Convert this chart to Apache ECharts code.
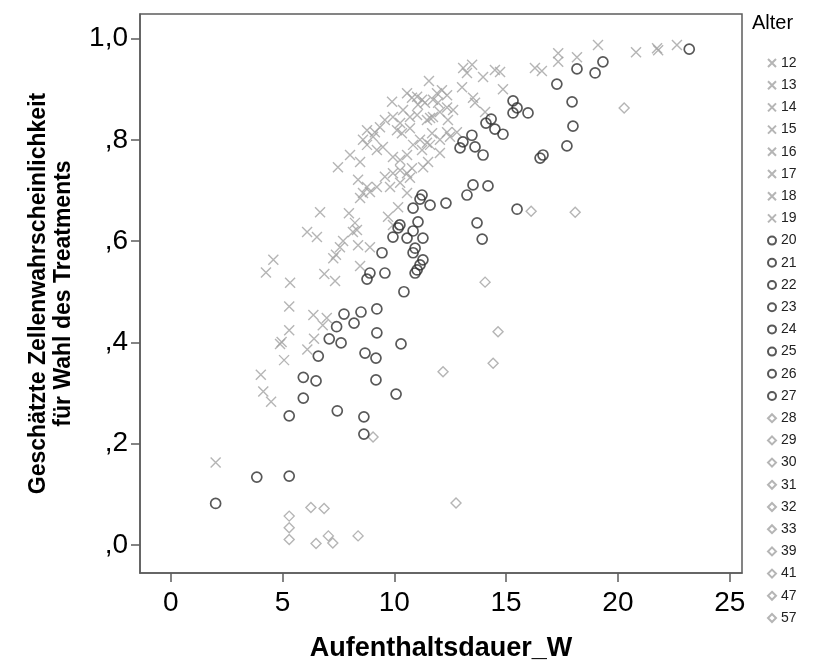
<!DOCTYPE html>
<html>
<head>
<meta charset="utf-8">
<script src="https://cdn.jsdelivr.net/npm/echarts@6/dist/echarts.min.js"></script>
<style>
  html, body { margin: 0; padding: 0; background: #fff; }
  #chart { width: 834px; height: 670px; }
</style>
</head>
<body>
<div id="chart"></div>
<script>
// Estimated cell probability vs. length of stay, grouped by age (Alter)

// Ages 12–19 (cross markers): [Aufenthaltsdauer_W, probability]
const crossPoints = [
  [4.59,0.563],[4.26,0.538],[5.34,0.518],[5.30,0.471],[5.30,0.424],[4.96,0.401],[4.89,0.397],
  [5.07,0.365],[4.03,0.336],[4.14,0.303],[4.49,0.283],[2.01,0.163],[6.38,0.454],[6.80,0.434],
  [6.98,0.448],[6.41,0.407],[6.11,0.386],[6.87,0.535],[7.27,0.566],[7.35,0.521],
  [7.71,0.600],[7.57,0.588],[7.39,0.573],[8.38,0.592],[8.91,0.588],[8.47,0.551],
  [13.08,0.942],[13.48,0.948],[13.25,0.932],[13.97,0.924],[14.50,0.938],[14.73,0.934],
  [11.55,0.916],[12.13,0.898],[11.91,0.892],[12.36,0.888],[13.03,0.904],[13.52,0.883],
  [11.24,0.879],[11.06,0.869],[11.37,0.873],[10.57,0.892],[10.79,0.883],[9.90,0.875],
  [14.06,0.855],[12.36,0.864],[12.63,0.859],[12.04,0.855],[11.73,0.845],[11.46,0.839],
  [11.02,0.849],[10.39,0.859],[10.70,0.845],[10.26,0.833],[9.58,0.839],[9.36,0.825],
  [10.12,0.819],[10.34,0.813],[10.70,0.823],[8.78,0.819],[9.05,0.806],[8.60,0.800],
  [11.69,0.813],[12.04,0.800],[12.49,0.806],[12.80,0.815],[11.15,0.800],[11.46,0.794],
  [9.49,0.786],[9.22,0.780],[8.02,0.770],[8.47,0.756],[7.48,0.746],[12.04,0.774],
  [9.94,0.766],[10.26,0.760],[10.57,0.770],[10.26,0.740],[9.94,0.734],[10.57,0.734],
  [8.38,0.721],[8.78,0.707],[8.60,0.695],[9.22,0.707],[9.58,0.727],[10.26,0.715],
  [10.70,0.725],[10.57,0.695],[10.17,0.667],[8.47,0.685],[6.68,0.657],[7.97,0.655],
  [8.24,0.636],[8.33,0.622],[8.15,0.618],[6.10,0.618],[6.54,0.608],[9.72,0.648],[9.94,0.632],
  [17.33,0.971],[17.33,0.954],[18.17,0.963],[19.11,0.987],[20.81,0.973],[21.75,0.981],
  [21.80,0.977],[22.64,0.987],[16.29,0.942],[16.60,0.936],[14.86,0.900],
  [13.61,0.873],[11.96,0.873],[11.60,0.843],[12.40,0.839],[12.36,0.815],[9.13,0.815],
  [8.78,0.790],[10.84,0.790],[11.60,0.790],[11.24,0.780],[10.79,0.744],[9.81,0.707],
  [8.91,0.697],[11.29,0.746],[11.51,0.756],[9.94,0.845],[11.02,0.885],[11.73,0.879]
];

// Ages 20–27 (circle markers)
const circlePoints = [
  [7.42,0.431],[7.09,0.407],[7.62,0.399],[6.60,0.373],[5.93,0.331],[6.50,0.324],[5.93,0.290],
  [7.45,0.265],[5.30,0.255],[3.85,0.134],[5.30,0.136],[2.01,0.082],
  [11.28,0.563],[11.15,0.553],[11.02,0.543],[10.93,0.537],[8.91,0.537],[8.78,0.525],
  [9.58,0.537],[10.43,0.500],[7.75,0.456],[8.51,0.460],[9.22,0.466],[8.20,0.438],
  [9.22,0.419],[10.30,0.397],[8.69,0.379],[9.18,0.369],[9.18,0.326],[10.08,0.298],
  [8.64,0.253],[8.64,0.219],
  [14.33,0.841],[14.10,0.833],[14.50,0.821],[13.47,0.809],[13.07,0.796],[12.94,0.784],
  [13.61,0.786],[13.97,0.770],[13.52,0.711],[14.19,0.709],[13.25,0.691],[11.24,0.691],
  [11.15,0.683],[11.60,0.671],[12.31,0.675],[10.84,0.665],[13.70,0.636],[13.93,0.604],
  [11.06,0.638],[10.25,0.632],[10.17,0.626],[9.94,0.608],[10.84,0.620],[10.57,0.606],
  [11.28,0.606],[9.45,0.577],[10.93,0.586],[10.84,0.577],
  [23.19,0.979],[19.33,0.954],[18.98,0.932],[18.17,0.940],[17.27,0.910],[17.95,0.875],
  [17.99,0.827],[17.72,0.788],[15.31,0.877],[15.49,0.863],[15.31,0.853],[15.98,0.853],
  [14.86,0.811],[16.65,0.770],[16.52,0.764],[15.49,0.663]
];

// Ages 28–57 (diamond markers)
const diamondPoints = [
  [5.30,0.057],[5.30,0.034],[5.30,0.011],[6.27,0.074],[6.86,0.072],[7.05,0.018],
  [6.50,0.003],[7.25,0.004],[8.38,0.018],[9.05,0.213],[12.18,0.342],[12.76,0.083],
  [14.06,0.519],[14.64,0.421],[14.42,0.359],[16.12,0.659],[18.09,0.657],[20.28,0.863]
];

// Legend categories
const ages = [12,13,14,15,16,17,18,19,20,21,22,23,24,25,26,27,28,29,30,31,32,33,39,41,47,57];

// Axis ticks and their labels
const xTicks = [0,5,10,15,20,25];
const yTicks = [0,0.2,0.4,0.6,0.8,1.0];
const yTickLabels = [',0',',2',',4',',6',',8','1,0'];

const FONT = "'Liberation Sans', Arial, sans-serif";
const AXIS_GREY = '#5c5c5c';
const CROSS = 'path://M0,0L10,10M10,0L0,10';

const markerStyles = {
  cross:   { symbol: CROSS,     symbolSize: 10, itemStyle: { color: 'rgba(0,0,0,0)', borderColor: '#a3a3a3', borderWidth: 1.4 } },
  circle:  { symbol: 'circle',  symbolSize: 10, itemStyle: { color: 'rgba(0,0,0,0)', borderColor: '#2e2e2e', borderWidth: 1.7 } },
  diamond: { symbol: 'diamond', symbolSize: 10, itemStyle: { color: 'rgba(0,0,0,0)', borderColor: '#a3a3a3', borderWidth: 1.4 } }
};

function markerForAge(a) {
  if (a < 20) return 'cross';
  if (a < 28) return 'circle';
  return 'diamond';
}

const series = [
  Object.assign({ name: 'Alter 12–19', type: 'scatter', data: crossPoints, z: 2 }, markerStyles.cross),
  Object.assign({ name: 'Alter 28–57', type: 'scatter', data: diamondPoints, z: 3 }, markerStyles.diamond),
  Object.assign({ name: 'Alter 20–27', type: 'scatter', data: circlePoints, z: 4 }, markerStyles.circle)
];
// one legend entry per age, carrying the marker of its group
ages.forEach(a => {
  series.push(Object.assign({ name: String(a), type: 'scatter', data: [] }, markerStyles[markerForAge(a)]));
});

const chart = echarts.init(document.getElementById('chart'), null, { renderer: 'canvas' });
chart.setOption({
  animation: false,
  backgroundColor: '#fff',
  textStyle: { fontFamily: FONT },
  title: {
    text: 'Alter',
    left: 752, top: 13, padding: 0,
    textStyle: { fontFamily: FONT, fontSize: 20, fontWeight: 'normal', color: '#000' }
  },
  legend: {
    data: ages.map(String),
    orient: 'vertical',
    left: 762, top: 51,
    itemWidth: 8, itemHeight: 8, itemGap: 8.2,
    selectedMode: false,
    textStyle: { fontFamily: FONT, fontSize: 14, lineHeight: 14, color: '#222' }
  },
  grid: {
    left: 140, top: 14, width: 602, height: 559,
    show: true, borderColor: AXIS_GREY, borderWidth: 1.5, backgroundColor: '#fff'
  },
  xAxis: {
    type: 'value', min: -1.373, max: 25.55,
    name: 'Aufenthaltsdauer_W', nameLocation: 'middle', nameGap: 62,
    nameTextStyle: { fontFamily: FONT, fontSize: 27, fontWeight: 'bold', color: '#000' },
    splitLine: { show: false },
    axisLine: { show: true, onZero: false, lineStyle: { color: AXIS_GREY, width: 1.5 } },
    axisTick: { show: true, customValues: xTicks, length: 9, lineStyle: { color: AXIS_GREY, width: 1.5 } },
    axisLabel: { customValues: xTicks, fontFamily: FONT, fontSize: 28, color: '#000', margin: 16 }
  },
  yAxis: {
    type: 'value', min: -0.0553, max: 1.0484,
    name: 'Geschätzte Zellenwahrscheinlichkeit\nfür Wahl des Treatments',
    nameLocation: 'middle', nameGap: 64, nameRotate: 90,
    nameTextStyle: { fontFamily: FONT, fontSize: 23, fontWeight: 'bold', color: '#000', lineHeight: 25 },
    splitLine: { show: false },
    axisLine: { show: true, onZero: false, lineStyle: { color: AXIS_GREY, width: 1.5 } },
    axisTick: { show: true, customValues: yTicks, length: 9, lineStyle: { color: AXIS_GREY, width: 1.5 } },
    axisLabel: {
      customValues: yTicks, fontFamily: FONT, fontSize: 28, color: '#000', margin: 12,
      formatter: v => yTickLabels[Math.round(v * 5)]
    }
  },
  series: series
});
</script>
</body>
</html>
